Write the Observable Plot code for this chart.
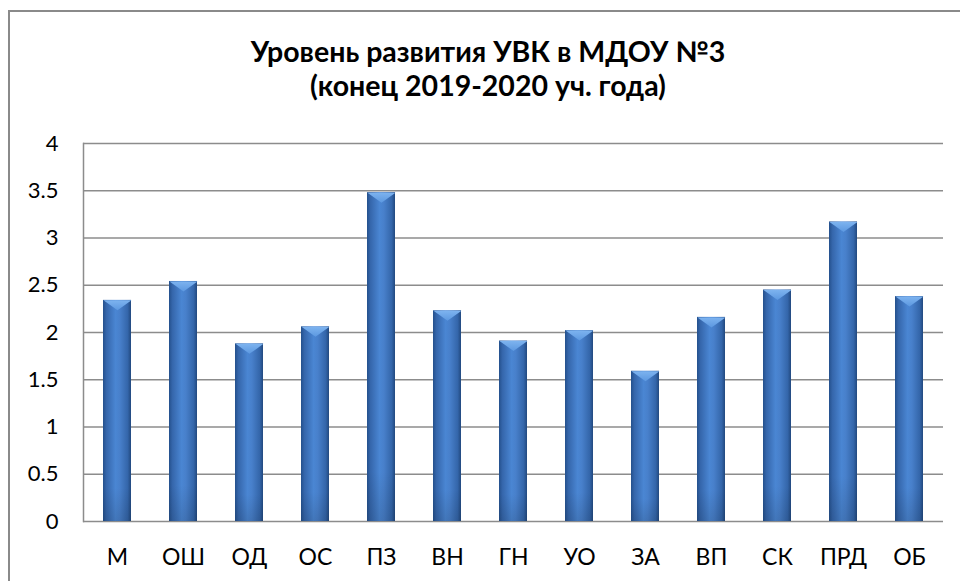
<!DOCTYPE html>
<html>
<head>
<meta charset="utf-8">
<script src="https://cdn.jsdelivr.net/npm/d3@7"></script>
<script src="https://cdn.jsdelivr.net/npm/@observablehq/plot@0.6"></script>
<style>
  html, body { margin: 0; padding: 0; background: #fff; overflow: hidden; }
  #wrap { position: relative; width: 960px; height: 581px; overflow: hidden; }
  #border { position: absolute; left: 8px; top: 10px; width: 1000px; height: 700px; border: 2px solid #8a8a8a; box-sizing: border-box; }
  #title { position: absolute; left: 0; width: 976px; top: 34px; text-align: center;
           font-family: Lato, sans-serif; font-weight: bold; font-size: 28.5px; line-height: 34px; color: #000; }
  #chart { position: absolute; left: 0; top: 0; }
</style>
</head>
<body>
<div id="wrap">
  <div id="border"></div>
  <div id="chart"></div>
  <div id="title">Уровень развития УВК в МДОУ №3<br>(конец 2019-2020 уч. года)</div>
</div>
<script>
const categories = ["М", "ОШ", "ОД", "ОС", "ПЗ", "ВН", "ГН", "УО", "ЗА", "ВП", "СК", "ПРД", "ОБ"];
const values = [2.34, 2.54, 1.88, 2.06, 3.48, 2.23, 1.91, 2.02, 1.59, 2.16, 2.45, 3.17, 2.38];
const yTicks = [0, 0.5, 1, 1.5, 2, 2.5, 3, 3.5, 4];

const data = categories.map((c, i) => ({cat: c, val: values[i]}));

const chevron = {
  draw(ctx) {
    ctx.moveTo(-14, 0);
    ctx.lineTo(14, 0);
    ctx.lineTo(0, 10);
    ctx.closePath();
  }
};

const chart = Plot.plot({
  width: 960,
  height: 581,
  marginTop: 143,
  marginBottom: 60,
  marginLeft: 83,
  marginRight: 17,
  style: {fontFamily: "Lato, sans-serif", fontSize: "22px", color: "#000", background: "transparent", overflow: "visible"},
  x: {domain: categories, paddingInner: 0.577, paddingOuter: 0.2885, label: null},
  y: {domain: [0, 4], label: null},
  marks: [
    Plot.ruleY(yTicks, {stroke: "#8c8c8c", strokeWidth: 1.5, strokeOpacity: 1}),
    Plot.frame({anchor: "left", stroke: "#8c8c8c", strokeWidth: 1.5, strokeOpacity: 1}),
    Plot.barY(data, {x: "cat", y: "val", fill: "url(#barGrad)"}),
    Plot.barY(data, {x: "cat", y: "val", fill: "url(#barShade)"}),
    Plot.dot(data, {x: "cat", y: "val", symbol: chevron, fill: "url(#chevGrad)", stroke: "none", r: 5}),
    Plot.axisY({ticks: yTicks, tickSize: 0, tickPadding: 25, tickFormat: d => String(d), fontSize: 22}),
    Plot.axisX({tickSize: 0, tickPadding: 27, fontSize: 23})
  ]
});

const svg = d3.select(chart);
const defs = svg.insert("defs", ":first-child");
const g1 = defs.append("linearGradient").attr("id", "barGrad").attr("x1", "0").attr("x2", "1").attr("y1", "0").attr("y2", "0");
[["0%", "#24508c"], ["12%", "#3566ab"], ["45%", "#4a86d3"], ["60%", "#4880cb"], ["88%", "#3466aa"], ["100%", "#22497f"]]
  .forEach(([o, c]) => g1.append("stop").attr("offset", o).attr("stop-color", c));
const g2 = defs.append("linearGradient").attr("id", "barShade").attr("x1", "0").attr("x2", "0").attr("y1", "0").attr("y2", "1");
[["0%", "#ffffff", 0], ["85%", "#000000", 0.0], ["100%", "#000000", 0.12]]
  .forEach(([o, c, a]) => g2.append("stop").attr("offset", o).attr("stop-color", c).attr("stop-opacity", a));
const g3 = defs.append("linearGradient").attr("id", "chevGrad").attr("x1", "0").attr("x2", "0").attr("y1", "0").attr("y2", "1");
[["0%", "#7db3ef"], ["100%", "#5c98e0"]]
  .forEach(([o, c]) => g3.append("stop").attr("offset", o).attr("stop-color", c));

document.getElementById("chart").appendChild(chart);
</script>
</body>
</html>
